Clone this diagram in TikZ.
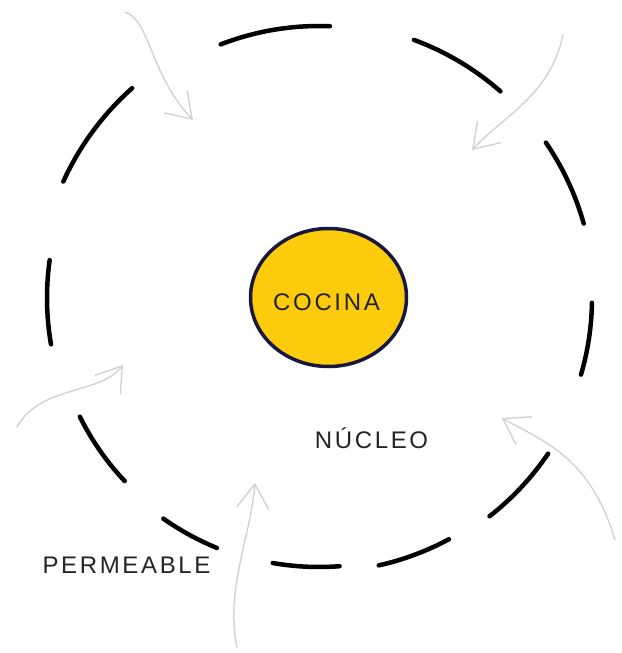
\documentclass[tikz,border=0pt]{standalone}
\usepackage{fontspec}
\newfontfamily\rotulo{Liberation Sans}[LetterSpace=11]
\usetikzlibrary{shapes.geometric,arrows.meta}
\definecolor{amarillo}{HTML}{FBCB0C}
\definecolor{marino}{HTML}{17173F}
\definecolor{tinta}{HTML}{242424}
\definecolor{lapiz}{HTML}{CFCFCF}

\begin{document}
\begin{tikzpicture}[
  x=1pt, y=1pt,
  % Trazos del borde permeable
  borde/.style={line width=4.5pt, line cap=round, black},
  % Flechas de lapiz que entran
  flujo/.style={line width=1.3pt, lapiz, -{Straight Barb[length=24pt, width=32pt, line width=1.3pt]}},
  % Textos
  rotulos/.style={font=\rotulo\fontsize{24}{26}\selectfont, text=tinta, inner sep=0pt},
  nucleo/.style={ellipse, draw=marino, line width=3.5pt, fill=amarillo, minimum width=156pt, minimum height=138pt}
]
  \useasboundingbox (0,0) rectangle (621,-653);
  \coordinate (centro) at (319,-298);

  % Borde discontinuo
  \foreach \a/\b/\r in {131.7/155.5/281, 111.2/87.7/272, 69.8/48.7/275, 34.4/15.7/275,
      -1/-16.3/273, -34.2/-52/277, -61.7/-77.4/274, -85.6/-99.9/269,
      -112.2/-125.2/270, -136.7/-153.6/267, -170.2/-188/272}
    \draw[borde] (centro) ++(\a:\r) arc[start angle=\a, end angle=\b, radius=\r];

  % Cocina en el centro
  \node[nucleo] (cocina) at (328.5,-297.5) {};
  \node[rotulos] (tcocina) at (326.5,-302.5) {COCINA};
  \node[rotulos] (tnucleo) at (371.5,-438.5) {NÚCLEO};
  \node[rotulos] (tperm) at (126.5,-565) {PERMEABLE};

  % Flechas
  \coordinate (a0) at (125,-12);   \coordinate (a1) at (193,-120);
  \coordinate (b0) at (563,-35);   \coordinate (b1) at (472,-150);
  \coordinate (c0) at (17,-427);   \coordinate (c1) at (123,-365);
  \coordinate (d0) at (615,-540);  \coordinate (d1) at (502,-418);
  \coordinate (e0) at (237,-648);  \coordinate (e1) at (255,-483);
  \draw[flujo] (a0) .. controls (150,-20) and (150,-75) .. (a1);
  \draw[flujo] (b0) .. controls (550,-95) and (505,-115) .. (b1);
  \draw[flujo] (c0) .. controls (40,-385) and (100,-395) .. (c1);
  \draw[flujo] (d0) .. controls (590,-455) and (540,-440) .. (d1);
  \draw[flujo] (e0) .. controls (225,-590) and (250,-540) .. (e1);
\end{tikzpicture}
\end{document}
